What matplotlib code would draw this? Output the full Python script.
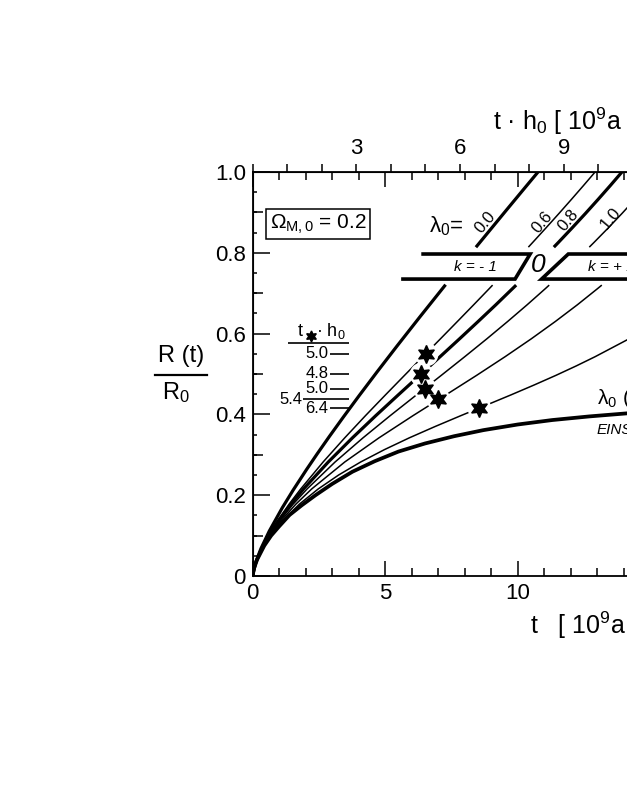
import numpy as np
import matplotlib.pyplot as plt
from matplotlib.lines import Line2D
from matplotlib.ticker import MultipleLocator, FixedLocator, FuncFormatter

plt.rcParams['font.family'] = ['Liberation Sans', 'DejaVu Sans']
plt.rcParams['mathtext.fontset'] = 'custom'
plt.rcParams['mathtext.rm'] = 'Liberation Sans'
plt.rcParams['mathtext.it'] = 'Liberation Sans:italic'

# R(t)/R0 gegen t [10^9 a], Omega_M,0 = 0.2, abgelesen
# lambda0 = 0.0 (unter / ueber dem k-Band)
t_l00_lo = [0, 0.0375, 0.1285, 0.3114, 0.6255, 1.1186, 1.5243, 2.0304, 2.4321, 2.892,
            3.4164, 4.012, 4.6875, 5.450, 6.3108, 7.279]
R_l00_lo = [0, 0.0160, 0.0368, 0.0679, 0.1111, 0.1691, 0.2124, 0.2634, 0.3022, 0.3453,
            0.3930, 0.4460, 0.5047, 0.5696, 0.6415, 0.7211]
t_l00_hi = [8.423, 9.585, 10.248, 10.767, 11.691]
R_l00_hi = [0.8138, 0.9066, 0.9591, 1.0, 1.0724]

R_grid = [0, 0.0292, 0.0608, 0.0966, 0.1357, 0.1778, 0.2154, 0.2823, 0.3420, 0.3969,
          0.4481, 0.4966, 0.5429, 0.5872, 0.6300, 0.6713, 0.7114, 0.7200]

# lambda0 = 0.6
t_l06_lo = [0, 0.0957, 0.2845, 0.5629, 0.9283, 1.3731, 1.8112, 2.6589, 3.4734, 4.2558,
            5.0073, 5.7289, 6.4217, 7.0867, 7.7252, 8.3384, 8.9277, 9.0529]
t_l06_hi = [10.4025, 10.5640, 11.0696, 11.5570, 12.0274, 12.4816, 12.9207, 13.3453]
R_l06_hi = [0.814, 0.8255, 0.8618, 0.8973, 0.9322, 0.9664, 1.0, 1.0331]

# lambda0 = 0.8 (k = 0)
t_l08_lo = [0, 0.0965, 0.2896, 0.5788, 0.9636, 1.4425, 1.9178, 2.8539, 3.7648, 4.6448,
            5.4905, 6.2998, 7.0720, 7.8074, 8.5073, 9.1744, 9.9410]
R_l08_lo = [0, 0.0292, 0.0608, 0.0966, 0.1357, 0.1778, 0.2154, 0.2823, 0.3420, 0.3969,
            0.4481, 0.4966, 0.5429, 0.5872, 0.6300, 0.6713, 0.7200]
t_l08_hi = [11.3637, 11.533, 12.0559, 12.556, 13.0346, 13.494, 13.9342, 14.7652]
R_l08_hi = [0.814, 0.8255, 0.8618, 0.8973, 0.9322, 0.9664, 1.0, 1.0656]

# lambda0 = 1.0
t_l10_lo = [0, 0.0974, 0.2950, 0.5964, 1.0056, 1.5251, 2.0508, 3.1105, 4.1629, 5.1892,
            6.1767, 7.1159, 8.0034, 8.8379, 9.6212, 10.3557, 11.0450, 11.1888]
t_l10_hi = [12.7013, 12.8771, 13.4203, 13.9347, 14.4227, 14.8867]
R_l10_hi = [0.814, 0.8255, 0.8618, 0.8973, 0.9322, 0.9664]

# lambda0 = 1.2
t_l12_lo = [0, 0.0983, 0.3008, 0.6159, 1.0542, 1.6274, 2.2250, 3.4761, 4.7661, 6.0493,
            7.2867, 8.4490, 9.5261, 10.5148, 11.4208, 12.2512, 13.0144, 13.1735]
t_l12_hi = [14.792, 14.976, 15.541]
R_l12_hi = [0.814, 0.8255, 0.8618]

# lambda0 = 1.4
t_l14 = [0, 0.0992, 0.3071, 0.6383, 1.1135, 1.7614, 2.4712, 3.2432, 4.0775, 4.9711,
         5.9105, 6.8791, 7.8547, 8.8142, 9.7395, 10.6170, 11.4410, 12.2091, 12.9236,
         14.2052, 15.3187]
R_l14 = [0, 0.0292, 0.0608, 0.0966, 0.1357, 0.1778, 0.2154, 0.2500, 0.2823, 0.3128,
         0.3420, 0.3699, 0.3969, 0.4229, 0.4481, 0.4727, 0.4966, 0.5200, 0.5429,
         0.5872, 0.6300]

# lambda0(E), Einstein-Grenzfall
t_lE = [0, 0.019, 0.056, 0.162, 0.436, 0.696, 1.0, 1.39, 1.85, 2.37, 3.0, 3.76, 4.6,
        5.5, 6.5, 7.6, 8.7, 10.0, 11.3, 12.7, 14.2, 15.5, 17.0]
R_lE = [0, 0.010, 0.020, 0.040, 0.075, 0.100, 0.123, 0.151, 0.175, 0.200, 0.228, 0.258,
        0.284, 0.308, 0.328, 0.346, 0.361, 0.375, 0.386, 0.395, 0.403, 0.408, 0.412]

# Wendepunkte (Sterne) und t*.h0
t_star = [6.528, 6.353, 6.485, 7.010, 8.521]
R_star = [0.550, 0.500, 0.464, 0.437, 0.415]
star_lab = ["5.0", "4.8", "5.0", "5.4", "6.4"]

lam_lab = ["0.0", "0.6", "0.8", "1.0"]
h0 = 0.767

W, H = 627, 811


def fx(px):
    return px / W


def fy(py):
    return 1 - py / H


fig = plt.figure(figsize=(W / 100, H / 100), dpi=100)
ax = fig.add_axes([fx(252.7), fy(576), 530 / W, 404 / H])
ax.set_xlim(0, 20)
ax.set_ylim(0, 1)
for s in ax.spines.values():
    s.set_linewidth(1.3)

thick, thin = 2.3, 1.1
kw = dict(color='k', solid_capstyle='butt', solid_joinstyle='round')
ax.plot(t_l00_lo, R_l00_lo, lw=thick, **kw)
ax.plot(t_l00_hi, R_l00_hi, lw=thick, **kw)
ax.plot(t_l06_lo, R_grid, lw=thin, **kw)
ax.plot(t_l06_hi, R_l06_hi, lw=thin, **kw)
ax.plot(t_l08_lo, R_l08_lo, lw=thick, **kw)
ax.plot(t_l08_hi, R_l08_hi, lw=thick, **kw)
ax.plot(t_l10_lo, R_grid, lw=thin, **kw)
ax.plot(t_l10_hi, R_l10_hi, lw=thin, **kw)
ax.plot(t_l12_lo, R_grid, lw=thin, **kw)
ax.plot(t_l12_hi, R_l12_hi, lw=thin, **kw)
ax.plot(t_l14, R_l14, lw=thin, **kw)
ax.plot(t_lE, R_lE, lw=thick + 0.4, **kw)

# Sterne mit weisser Luecke
ax.plot(t_star, R_star, ls='none', marker='o', ms=17, mfc='white', mec='none', zorder=4)
ax.plot(t_star, R_star, ls='none', marker=(6, 1, 0), ms=13, color='k', zorder=5)

# k-Band
ax.plot([6.43, 10.47, 9.90, 5.67], [0.797, 0.797, 0.735, 0.735], color='k', lw=2.6,
        solid_joinstyle='miter')
ax.plot([20, 11.91, 10.90, 20], [0.797, 0.797, 0.735, 0.735], color='k', lw=2.6,
        solid_joinstyle='miter')

# Tabelle t*.h0 links
ax.hlines(0.577, 1.33, 3.63, color='k', lw=1.2)
for i, (r, lab) in enumerate(zip(R_star, star_lab)):
    x0 = 1.90 if i == 3 else 2.93
    ax.hlines(r, x0, 3.63, color='k', lw=1.2)
    xt = 1.86 if i == 3 else 2.86
    ax.text(xt, r, lab, ha='right', va='center', fontsize=12)

# Achsen / Ticks
ax.xaxis.set_major_locator(MultipleLocator(5))
ax.xaxis.set_minor_locator(MultipleLocator(1))
ax.yaxis.set_major_locator(MultipleLocator(0.2))
ax.yaxis.set_minor_locator(MultipleLocator(0.05))
ax.yaxis.set_major_formatter(FuncFormatter(lambda v, p: "0" if abs(v) < 1e-9 else f"{v:.1f}"))
ax.tick_params(axis='x', which='major', direction='in', length=11, width=1.1, top=True,
               labelsize=16, pad=5)
ax.tick_params(axis='x', which='minor', direction='in', length=6, width=1.1, top=True)
ax.tick_params(axis='y', which='major', direction='in', length=12, width=1.1,
               labelsize=16, pad=5)
ax.tick_params(axis='y', which='minor', direction='in', length=3, width=1.1)

sec_y = ax.secondary_yaxis('left')
sec_y.set_yticks([0.1, 0.3, 0.5, 0.7, 0.9])
sec_y.tick_params(direction='in', length=7, width=1.1, labelleft=False)

sec_x = ax.secondary_xaxis('top', functions=(lambda t: t * h0, lambda th: th / h0))
sec_x.xaxis.set_major_locator(FixedLocator([3, 6, 9, 12]))
sec_x.xaxis.set_minor_locator(MultipleLocator(1))
sec_x.tick_params(which='both', direction='out', length=6, width=1.1, labelsize=16, pad=3)

# Texte
fig.text(fx(493), fy(121), "t · h$_0$ [ 10$^9$a ]", ha='left', va='center', fontsize=18)
fig.text(fx(530), fy(625), "t   [ 10$^9$a ]", ha='left', va='center', fontsize=18)
fig.text(fx(181), fy(356), "R (t)", ha='center', va='center', fontsize=17)
fig.add_artist(Line2D([fx(155), fx(207)], [fy(375), fy(375)], color='k', lw=1.6))
fig.text(fx(176), fy(393), "R$_0$", ha='center', va='center', fontsize=17)

fig.text(fx(318), fy(224), r"Ω$_{\mathrm{M,0}}$ = 0.2", ha='center', va='center', fontsize=15,
         bbox=dict(boxstyle='square,pad=0.15', fc='white', ec='k', lw=1.1))
fig.text(fx(446), fy(226), "λ$_0$=", ha='center', va='center', fontsize=16)
for lab, (px, py) in zip(lam_lab, [(485, 222), (542, 222), (568, 220), (611, 218)]):
    fig.text(fx(px), fy(py), lab, ha='center', va='center', fontsize=12, rotation=50)

fig.text(fx(475), fy(267), "k = - 1", ha='center', va='center', fontsize=11, style='italic')
fig.text(fx(538), fy(265), "0", ha='center', va='center', fontsize=19, style='italic')
fig.text(fx(588), fy(267), "k = + 1", ha='left', va='center', fontsize=11, style='italic')

fig.text(fx(597), fy(399), "λ$_0$ (E)", ha='left', va='center', fontsize=15)
fig.text(fx(597), fy(430), "EINSTEIN", ha='left', va='center', fontsize=11, style='italic')

fig.text(fx(300), fy(331), "t", ha='center', va='center', fontsize=13)
fig.add_artist(Line2D([fx(311)], [fy(336)], marker=(6, 1, 0), ms=8, color='k', ls='none'))
fig.text(fx(316), fy(331), "· h$_0$", ha='left', va='center', fontsize=13)

fig.savefig("out.png", dpi=100)
plt.close(fig)
